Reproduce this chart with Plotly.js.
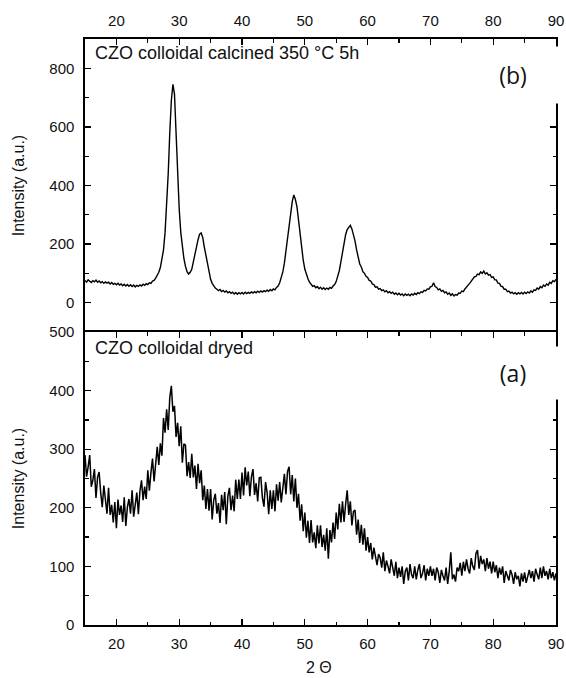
<!DOCTYPE html>
<html>
<head>
<meta charset="utf-8">
<script src="https://cdn.plot.ly/plotly-3.0.1.min.js"></script>
<style>html,body{margin:0;padding:0;background:#fff;}#chart{width:566px;height:678px;}</style>
</head>
<body>
<div id="chart"></div>
<script>
// 2-theta scan grid (degrees)
const twoThetaStart = 15;
const twoThetaStep = 0.25;

// (b) CZO colloidal calcined 350 °C 5h — intensity, one row per degree (x.00, x.25, x.50, x.75)
const calcined = [
  76,70,78,72,  69,75,71,77,  70,74,68,72,  66,71,67,70,  64,69,63,66,   // 15-19
  61,66,60,64,  58,63,57,62,  56,61,55,60,  54,59,56,61,  57,63,59,65,   // 20-24
  62,68,66,74,  76,84,92,104, 120,145,180,240, 330,440,580,690, 745,712,580,430, // 25-29
  320,240,185,150, 124,106,98,104, 114,136,160,190, 215,234,238,222, 190,160,126,100, // 30-34
  80,66,56,50,  46,41,45,38,  42,36,40,34,  38,32,36,30,  35,29,34,30,   // 35-39
  35,30,36,31,  35,32,37,33,  38,34,39,35,  40,36,41,38,  43,39,45,41,   // 40-44
  47,44,52,57,  68,85,105,135, 175,220,265,310, 345,368,352,328, 280,230,185,145, // 45-49
  115,95,82,70, 64,56,58,51,  55,48,53,46,  51,45,50,46,  52,49,57,62,   // 50-54
  72,88,110,140, 175,205,232,250, 258,264,252,235, 210,180,158,132, 122,106,100,90, // 55-59
  86,76,74,64,  62,53,54,46,  48,41,44,37,  41,34,38,32,  36,29,33,27,   // 60-64
  32,26,30,24,  30,25,29,24,  30,26,32,28,  34,31,37,35,  42,40,47,46,   // 65-69
  54,56,68,55,  52,44,47,39,  42,34,37,29,  33,25,30,23,  28,26,33,32,   // 70-74
  40,38,47,52,  60,66,74,78,  88,90,98,96,  105,100,108,98, 102,94,96,86, // 75-79
  88,78,78,67,  66,56,55,46,  46,38,40,33,  36,30,34,29,  34,30,35,30,   // 80-84
  36,31,37,33,  40,36,44,42,  50,46,55,51,  60,56,64,60,  70,66,75,72,   // 85-89
  80                                                                     // 90
];

// (a) CZO colloidal dryed — intensity, one row per degree (x.00, x.25, x.50, x.75)
const dryed = [
  290,253,270,290, 236,247,266,217, 252,261,226,201, 238,216,190,234, 188,205,175,210, // 15-19
  165,214,188,204, 176,218,169,201, 215,190,230,185, 202,226,189,229, 247,213,236,215, // 20-24
  264,229,260,284, 245,276,304,273, 310,289,353,328, 368,333,388,408, 364,374,321,345, // 25-29
  305,339,277,309, 307,254,278,251, 292,252,272,232, 275,242,264,213, 238,198,232,195, // 30-34
  232,180,213,224, 190,208,174,222, 196,227,172,220, 234,196,221,194, 248,215,248,215, // 35-39
  260,221,269,238, 262,220,253,266, 222,242,211,251, 252,217,202,244, 226,189,230,198, // 40-44
  230,194,240,212, 244,209,236,258, 223,262,270,223, 256,211,250,200, 224,178,206,160, // 45-49
  192,149,178,140, 179,141,158,131, 170,139,170,133, 154,127,165,113, 162,141,175,147, // 50-54
  192,163,207,175, 211,176,206,230, 188,211,170,194, 196,154,180,140, 171,137,165,127, // 55-59
  150,124,140,112, 132,118,102,121, 115,98,124,92,   110,100,88,112,  96,84,108,80,    // 60-64
  98,82,100,70,    92,98,76,104,    86,80,100,78,    94,104,80,88,    102,76,96,84,    // 65-69
  100,84,96,76,    98,90,72,94,     84,76,98,70,     92,124,78,86,    74,98,92,106,    // 70-74
  84,108,92,112,   96,88,114,100,   94,122,128,96,   118,104,112,92,  114,96,108,88,   // 75-79
  108,90,102,80,   98,86,100,72,    92,84,76,94,     86,70,90,78,     84,66,88,74,     // 80-84
  90,72,84,94,     80,92,74,96,     86,78,98,80,     100,84,92,78,    96,80,90,76,     // 85-89
  88                                                                                   // 90
];

const xTickVals = [20, 30, 40, 50, 60, 70, 80, 90];
const topYTicks = [0, 200, 400, 600, 800];
const botYTicks = [0, 100, 200, 300, 400, 500];

const FONT = 'Liberation Sans, Arial, sans-serif';
const lineW = 1.6;

const traces = [
  {x0: twoThetaStart, dx: twoThetaStep, y: dryed, type: 'scatter', mode: 'lines',
   line: {color: '#000', width: 1.5}, xaxis: 'x', yaxis: 'y', hoverinfo: 'skip'},
  {x0: twoThetaStart, dx: twoThetaStep, y: calcined, type: 'scatter', mode: 'lines',
   line: {color: '#000', width: 1.4}, xaxis: 'x2', yaxis: 'y2', hoverinfo: 'skip'}
];

const commonAxis = {
  showgrid: false, zeroline: false, showline: true, linecolor: '#000', linewidth: lineW,
  ticks: 'inside', ticklen: 6, tickwidth: 1.4, tickcolor: '#000', automargin: false,
  tickfont: {family: FONT, size: 15, color: '#111'}
};

const layout = {
  width: 566, height: 678,
  margin: {l: 85, r: 10, t: 39, b: 53},
  paper_bgcolor: '#fff', plot_bgcolor: '#fff',
  showlegend: false,
  font: {family: FONT, color: '#111'},
  xaxis: Object.assign({}, commonAxis, {
    domain: [0, 1], range: [15, 90], anchor: 'y',
    tickvals: xTickVals, mirror: 'ticks', ticklabelstandoff: 4,
    minor: {dtick: 5, tick0: 0, ticks: 'inside', ticklen: 3.5, tickwidth: 1.2, tickcolor: '#000'}
  }),
  yaxis: Object.assign({}, commonAxis, {
    domain: [0, 0.5], range: [0, 500], anchor: 'x',
    tickvals: botYTicks, mirror: 'ticks', ticklabelstandoff: 6,
    minor: {dtick: 50, tick0: 0, ticks: 'inside', ticklen: 3.5, tickwidth: 1.2, tickcolor: '#000'},
    title: {text: 'Intensity (a.u.)', font: {family: FONT, size: 16, color: '#111'}, standoff: 21}
  }),
  xaxis2: Object.assign({}, commonAxis, {
    domain: [0, 1], range: [15, 90], anchor: 'y2', side: 'top',
    tickvals: xTickVals, mirror: false, ticklabelstandoff: 5,
    minor: {dtick: 5, tick0: 0, ticks: 'inside', ticklen: 3.5, tickwidth: 1.2, tickcolor: '#000'}
  }),
  yaxis2: Object.assign({}, commonAxis, {
    domain: [0.5, 1], range: [-100, 900], anchor: 'x2',
    tickvals: topYTicks, mirror: 'ticks', ticklabelstandoff: 6,
    minor: {dtick: 100, tick0: 0, ticks: 'inside', ticklen: 3.5, tickwidth: 1.2, tickcolor: '#000'},
    title: {text: 'Intensity (a.u.)', font: {family: FONT, size: 16, color: '#111'}, standoff: 21}
  }),
  annotations: [
    {text: '2 Θ', xref: 'paper', yref: 'paper', x: 0.497, y: -0.0895,
     xanchor: 'center', yanchor: 'bottom', showarrow: false, borderpad: 0,
     font: {family: FONT, size: 16, color: '#111'}},
    {text: 'CZO colloidal calcined 350 °C 5h', xref: 'paper', yref: 'paper',
     x: 0.016, y: 0.996, xanchor: 'left', yanchor: 'top', showarrow: false,
     font: {family: FONT, size: 18, color: '#111'}},
    {text: 'CZO colloidal dryed', xref: 'paper', yref: 'paper',
     x: 0.016, y: 0.494, xanchor: 'left', yanchor: 'top', showarrow: false,
     font: {family: FONT, size: 18, color: '#111'}},
    {text: '(b)', xref: 'paper', yref: 'paper', x: 0.909, y: 0.938,
     xanchor: 'center', yanchor: 'middle', showarrow: false,
     width: 92, height: 54, bgcolor: '#fff',
     font: {family: 'Open Sans, sans-serif', size: 23, color: '#111'}},
    {text: '(a)', xref: 'paper', yref: 'paper', x: 0.909, y: 0.43,
     xanchor: 'center', yanchor: 'middle', showarrow: false,
     width: 92, height: 50, bgcolor: '#fff',
     font: {family: 'Open Sans, sans-serif', size: 23, color: '#111'}}
  ]
};

Plotly.newPlot('chart', traces, layout, {displayModeBar: false, staticPlot: true});
</script>
</body>
</html>
